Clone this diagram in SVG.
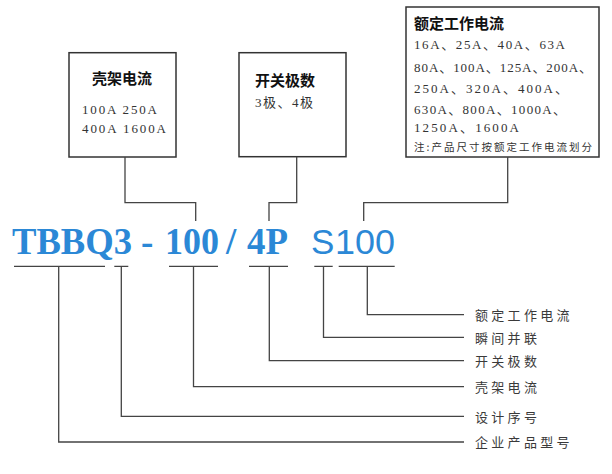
<svg xmlns="http://www.w3.org/2000/svg" width="612" height="474" viewBox="0 0 612 474">
<style>
.box{fill:#fff;stroke:#333;stroke-width:1.5}
.ln{fill:none;stroke:#444;stroke-width:1.3}
.ttl{font-family:"Noto Sans CJK SC",sans-serif;font-weight:bold;font-size:15px;fill:#111}
.val{font-family:"Liberation Serif","Noto Sans CJK SC",serif;font-size:13px;fill:#333}
.note{font-family:"Noto Sans CJK SC",sans-serif;font-size:10.5px;fill:#333}
.lbl{font-family:"Noto Sans CJK SC",sans-serif;font-size:13px;letter-spacing:3.3px;fill:#3a3a3a}
.big{font-family:"Liberation Serif",serif;font-weight:bold;font-size:37px;fill:#2b88d6}
.bigs{font-family:"Liberation Sans",sans-serif;font-size:35px;fill:#2b88d6}
</style>
<rect width="612" height="474" fill="#fff"/>
<g id="box-frame">
<rect class="box" x="69" y="52.7" width="107" height="104.3"/>
<text class="ttl" x="92" y="83.5">壳架电流</text>
<text class="val" x="82" y="114" textLength="75" lengthAdjust="spacing">100A 250A</text>
<text class="val" x="82" y="133" textLength="84" lengthAdjust="spacing">400A 1600A</text>
</g>
<g id="box-poles">
<rect class="box" x="239" y="52.7" width="107" height="104"/>
<text class="ttl" x="255" y="86">开关极数</text>
<text class="val" x="255" y="107" textLength="58" lengthAdjust="spacing">3极、4极</text>
</g>
<g id="box-rated">
<rect class="box" x="406" y="7" width="193" height="150"/>
<text class="ttl" x="414" y="28.5">额定工作电流</text>
<text class="val" x="414" y="48.5" textLength="151" lengthAdjust="spacing">16A、25A、40A、63A</text>
<text class="val" x="414" y="72" textLength="178" lengthAdjust="spacing">80A、100A、125A、200A、</text>
<text class="val" x="414" y="93" textLength="154" lengthAdjust="spacing">250A、320A、400A、</text>
<text class="val" x="414" y="114" textLength="152" lengthAdjust="spacing">630A、800A、1000A、</text>
<text class="val" x="414" y="132" textLength="105" lengthAdjust="spacing">1250A、1600A</text>
<text class="note" x="414" y="150.5" textLength="178" lengthAdjust="spacing">注:产品尺寸按额定工作电流划分</text>
</g>
<g id="model">
<text class="big" x="12" y="253.5" textLength="120" lengthAdjust="spacingAndGlyphs">TBBQ3</text>
<text class="big" x="141" y="253.5">-</text>
<text class="big" x="165" y="253.5" textLength="54" lengthAdjust="spacingAndGlyphs">100</text>
<text class="big" x="226" y="253.5">/</text>
<text class="big" x="247" y="253.5" textLength="41" lengthAdjust="spacingAndGlyphs">4P</text>
<text class="bigs" x="311" y="253.5">S</text>
<text class="bigs" x="335" y="253.5" textLength="60" lengthAdjust="spacingAndGlyphs">100</text>
</g>
<g id="labels">
<text class="lbl" x="475" y="320">额定工作电流</text>
<text class="lbl" x="475" y="342.5">瞬间并联</text>
<text class="lbl" x="475" y="366">开关极数</text>
<text class="lbl" x="475" y="392">壳架电流</text>
<text class="lbl" x="475" y="421.5">设计序号</text>
<text class="lbl" x="475" y="447">企业产品型号</text>
</g>
<g id="connectors">
<path class="ln" d="M125,157 V202.7 H195.7 V221"/>
<path class="ln" d="M296.7,156.7 V202.7 H269 V221"/>
<path class="ln" d="M507.7,157 V202.7 H363.7 V221"/>
<path class="ln" d="M14,266.3 H105 M58.7,266.3 V442 H464"/>
<path class="ln" d="M114.3,266.3 H128.3 M121.3,266.3 V416.3 H464"/>
<path class="ln" d="M169,266.3 H218 M193.5,266.3 V386.7 H464"/>
<path class="ln" d="M249,266.3 H288 M269.3,266.3 V360.7 H464"/>
<path class="ln" d="M314.3,266.3 H332.7 M323.5,266.3 V337.3 H464"/>
<path class="ln" d="M338.7,266.3 H394.7 M367.3,266.3 V314.7 H464"/>
</g>
</svg>
